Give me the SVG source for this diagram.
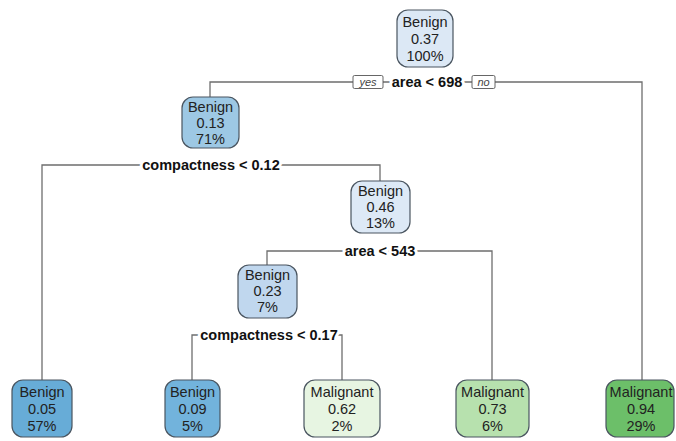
<svg xmlns="http://www.w3.org/2000/svg" width="676" height="441" viewBox="0 0 676 441">
<style>
.box{stroke:#4a5560;stroke-width:1.2}
.nt{font-family:"Liberation Sans",Arial,sans-serif;font-size:14.5px;fill:#222;text-anchor:middle}
.sp{font-family:"Liberation Sans",Arial,sans-serif;font-size:14.5px;font-weight:bold;fill:#111;text-anchor:middle;stroke:#fff;stroke-width:6;paint-order:stroke;stroke-linejoin:round}
.yn{font-family:"Liberation Sans",Arial,sans-serif;font-size:11px;font-style:italic;fill:#444;text-anchor:middle}
.yb{fill:#fff;stroke:#555;stroke-width:0.9}
.ln{fill:none;stroke:#6e6e6e;stroke-width:1.3}
</style>
<rect width="676" height="441" fill="#fff"/>
<g id="connectors">
<path class="ln" d="M210,97 V82 H642 V380"/>
<path class="ln" d="M42,380 V165 H380 V181"/>
<path class="ln" d="M267,265 V251 H492 V380"/>
<path class="ln" d="M192,380 V335 H342 V380"/>
</g>
<g id="split1">
<text class="sp" x="427" y="87">area &lt; 698</text>
<rect class="yb" x="353" y="75.5" width="30" height="13" rx="1.5"/>
<text class="yn" x="368" y="86">yes</text>
<rect class="yb" x="472" y="75.5" width="23" height="13" rx="1.5"/>
<text class="yn" x="483.5" y="86">no</text>
</g>
<g id="split2"><text class="sp" x="211" y="170">compactness &lt; 0.12</text></g>
<g id="split3"><text class="sp" x="380" y="256">area &lt; 543</text></g>
<g id="split4"><text class="sp" x="269" y="340">compactness &lt; 0.17</text></g>
<g id="n1">
<rect class="box" x="397" y="10" width="56" height="57" rx="11" fill="#dce8f5"/>
<text class="nt" x="425" y="27">Benign</text><text class="nt" x="425" y="44">0.37</text><text class="nt" x="425" y="61">100%</text>
</g>
<g id="n2">
<rect class="box" x="182" y="97" width="57" height="51" rx="11" fill="#9dc8e4"/>
<text class="nt" x="210.5" y="112">Benign</text><text class="nt" x="210.5" y="128">0.13</text><text class="nt" x="210.5" y="144">71%</text>
</g>
<g id="n3">
<rect class="box" x="351" y="181" width="59" height="52" rx="11" fill="#dde9f6"/>
<text class="nt" x="380.5" y="196">Benign</text><text class="nt" x="380.5" y="212">0.46</text><text class="nt" x="380.5" y="228">13%</text>
</g>
<g id="n4">
<rect class="box" x="238" y="265" width="59" height="53" rx="11" fill="#c0d7ee"/>
<text class="nt" x="267.5" y="280">Benign</text><text class="nt" x="267.5" y="296">0.23</text><text class="nt" x="267.5" y="312">7%</text>
</g>
<g id="leaf1">
<rect class="box" x="12" y="380" width="60" height="57" rx="11" fill="#67acd7"/>
<text class="nt" x="42" y="397">Benign</text><text class="nt" x="42" y="414">0.05</text><text class="nt" x="42" y="431">57%</text>
</g>
<g id="leaf2">
<rect class="box" x="165" y="380" width="55" height="57" rx="11" fill="#72b3dc"/>
<text class="nt" x="192.5" y="397">Benign</text><text class="nt" x="192.5" y="414">0.09</text><text class="nt" x="192.5" y="431">5%</text>
</g>
<g id="leaf3">
<rect class="box" x="304" y="380" width="76" height="57" rx="11" fill="#e7f5e2"/>
<text class="nt" x="342" y="397">Malignant</text><text class="nt" x="342" y="414">0.62</text><text class="nt" x="342" y="431">2%</text>
</g>
<g id="leaf4">
<rect class="box" x="456" y="380" width="73" height="57" rx="11" fill="#b7e1ae"/>
<text class="nt" x="492.5" y="397">Malignant</text><text class="nt" x="492.5" y="414">0.73</text><text class="nt" x="492.5" y="431">6%</text>
</g>
<g id="leaf5">
<rect class="box" x="606" y="380" width="68" height="57" rx="11" fill="#6cbf69"/>
<text class="nt" x="641" y="397">Malignant</text><text class="nt" x="641" y="414">0.94</text><text class="nt" x="641" y="431">29%</text>
</g>
</svg>
